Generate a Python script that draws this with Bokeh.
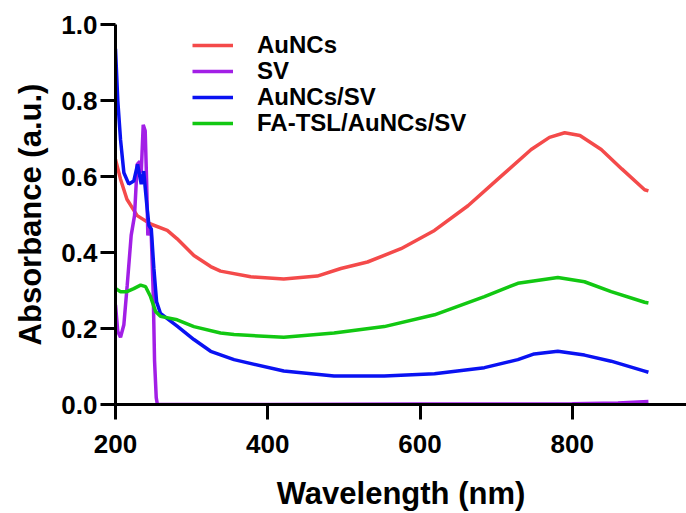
from bokeh.plotting import figure
from bokeh.models import Range1d, FixedTicker, NumeralTickFormatter, Legend, LegendItem
from bokeh.embed import file_html
from bokeh.resources import INLINE

# ---- data ----
wl_auncs = [200, 206.6, 215, 228.5, 246, 268, 281, 303, 325, 338, 377.6, 421, 465, 496,
            531, 575, 619, 663, 706.6, 746, 770, 790, 810, 838, 865, 895, 900]
abs_auncs = [0.645, 0.593, 0.54, 0.497, 0.475, 0.458, 0.436, 0.392, 0.363, 0.351, 0.336, 0.33,
             0.338, 0.358, 0.375, 0.41, 0.458, 0.523, 0.601, 0.671, 0.703, 0.715, 0.708,
             0.671, 0.62, 0.565, 0.562]

wl_sv = [200, 203, 206.6, 211, 215.4, 220.6, 225, 228.5, 232, 233.8, 236.4, 239, 240.8,
         242.5, 245, 247, 249.6, 251.3, 253.5, 255, 400, 600, 800, 860, 880, 900]
abs_sv = [0.262, 0.192, 0.177, 0.21, 0.314, 0.445, 0.497, 0.632, 0.64, 0.61, 0.736, 0.72,
          0.593, 0.445, 0.47, 0.445, 0.288, 0.115, 0.018, 0.0, 0.0, 0.001, 0.002, 0.004,
          0.006, 0.008]

wl_auncs_sv = [200, 203, 206.6, 211, 217.5, 224, 229, 233.8, 237, 240.8, 243.9, 247, 250.4,
               254, 259, 281, 303, 325, 355.7, 421, 487, 553, 619, 684.6, 728.5, 750, 781,
               816, 851, 895, 900]
abs_auncs_sv = [0.936, 0.8, 0.697, 0.61, 0.58, 0.588, 0.632, 0.58, 0.614, 0.532, 0.471, 0.462,
                0.358, 0.27, 0.24, 0.206, 0.171, 0.14, 0.118, 0.088, 0.075, 0.075, 0.081,
                0.097, 0.118, 0.133, 0.14, 0.13, 0.114, 0.088, 0.085]

wl_fa = [200, 206.6, 215, 224, 233, 239.5, 246, 252.6, 259, 281, 303, 338, 355.7, 421, 487,
         553, 619, 684.6, 728.5, 781, 816, 851, 895, 900]
abs_fa = [0.305, 0.297, 0.297, 0.305, 0.314, 0.31, 0.284, 0.245, 0.232, 0.223, 0.205, 0.188,
          0.184, 0.177, 0.188, 0.205, 0.236, 0.284, 0.319, 0.334, 0.323, 0.297, 0.269, 0.267]

labels = ["AuNCs", "SV", "AuNCs/SV", "FA-TSL/AuNCs/SV"]
colors = ["#F44A4A", "#A21FE6", "#0A12F2", "#12C812"]
x_ticks = [200, 400, 600, 800]
y_ticks = [0.0, 0.2, 0.4, 0.6, 0.8, 1.0]

FONT = "Liberation Sans"

p = figure(width=686, height=513, output_backend="svg", toolbar_location=None,
           x_range=Range1d(200, 950), y_range=Range1d(0, 1.0),
           min_border_left=115, min_border_right=0, min_border_top=24, min_border_bottom=106)
p.outline_line_color = None
p.xgrid.visible = False
p.ygrid.visible = False
p.background_fill_color = "white"

renderers = []
for wl, ab, c in zip([wl_auncs, wl_sv, wl_auncs_sv, wl_fa],
                     [abs_auncs, abs_sv, abs_auncs_sv, abs_fa], colors):
    r = p.line(wl, ab, line_color=c, line_width=3.5)
    renderers.append(r)

for ax in (p.xaxis[0], p.yaxis[0]):
    ax.axis_line_width = 3
    ax.axis_line_color = "black"
    ax.major_tick_line_width = 3
    ax.major_tick_line_color = "black"
    ax.major_tick_out = 15
    ax.major_tick_in = 0
    ax.minor_tick_line_color = None
    ax.major_label_text_font = FONT
    ax.major_label_text_font_style = "bold"
    ax.major_label_text_font_size = "26px"
    ax.major_label_text_color = "black"
    ax.axis_label_text_font = FONT
    ax.axis_label_text_font_style = "bold"
    ax.axis_label_text_font_size = "31px"
    ax.axis_label_text_color = "black"

p.xaxis.ticker = FixedTicker(ticks=x_ticks)
p.yaxis.ticker = FixedTicker(ticks=y_ticks)
p.yaxis.formatter = NumeralTickFormatter(format="0.0")
p.xaxis.axis_label = "Wavelength (nm)"
p.yaxis.axis_label = "Absorbance (a.u.)"
p.xaxis.major_label_standoff = 15
p.yaxis.major_label_standoff = 3
p.xaxis.axis_label_standoff = 20
p.yaxis.axis_label_standoff = 10

# one legend per entry so the row pitch matches the reference (~26 px)
row_bottoms = [345, 319, 293, 267]   # legend bottom, px above the frame bottom
for lab, r, yb in zip(labels, renderers, row_bottoms):
    lg = Legend(items=[LegendItem(label=lab, renderers=[r])],
                location=(77, yb), padding=0, margin=0, spacing=0,
                glyph_width=41, glyph_height=24, label_height=24, label_standoff=24,
                label_text_font=FONT, label_text_font_style="bold",
                label_text_font_size="24px", label_text_color="black",
                background_fill_alpha=0, border_line_alpha=0)
    p.add_layout(lg)

open("out.html", "w").write(file_html(p, INLINE))
